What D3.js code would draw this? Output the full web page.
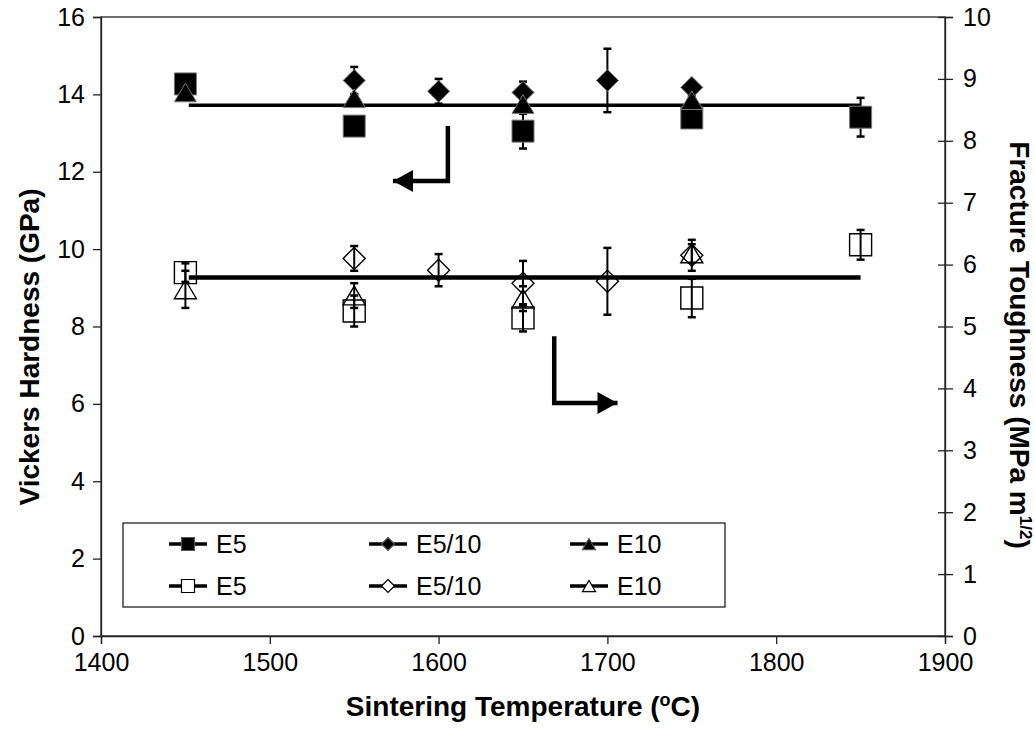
<!doctype html>
<html>
<head>
<meta charset="utf-8">
<script src="https://cdn.jsdelivr.net/npm/d3@7"></script>
<style>
  body { margin: 0; background: #fff; }
  svg { display: block; font-family: "Liberation Sans", Arial, sans-serif; }
</style>
</head>
<body>
<svg id="chart" width="1035" height="742"></svg>
<script>
  // sintering temperatures per composition
  var tempE5 = [1450, 1550, 1650, 1750, 1850];
  var tempE510 = [1550, 1600, 1650, 1700, 1750];
  var tempE10 = [1450, 1550, 1650, 1750];

  // Vickers hardness (GPa), left axis
  var hvE5 = [14.27, 13.18, 13.05, 13.39, 13.41];
  var hvE5Err = [0.1, 0.15, 0.45, 0.2, 0.5];
  var hvE510 = [14.36, 14.08, 14.05, 14.36, 14.18];
  var hvE510Err = [0.35, 0.32, 0.28, 0.82, 0.15];
  var hvE10 = [14.05, 13.9, 13.75, 13.85];
  var hvE10Err = [0.1, 0.1, 0.1, 0.1];

  // fracture toughness (MPa m^1/2), right axis
  var kE5 = [5.87, 5.25, 5.14, 5.46, 6.32];
  var kE5Err = [0.15, 0.25, 0.22, 0.31, 0.24];
  var kE510 = [6.1, 5.91, 5.7, 5.73, 6.15];
  var kE510Err = [0.2, 0.26, 0.36, 0.54, 0.25];
  var kE10 = [5.6, 5.5, 5.45, 6.18];
  var kE10Err = [0.3, 0.2, 0.2, 0.15];

  // linear trend lines (flat)
  var trendTemps = [1452, 1850];
  var hvTrend = [13.72, 13.72];
  var kTrend = [5.79, 5.79];

  var xTicks = [1400, 1500, 1600, 1700, 1800, 1900];
  var hvTicks = [0, 2, 4, 6, 8, 10, 12, 14, 16];
  var kTicks = [0, 1, 2, 3, 4, 5, 6, 7, 8, 9, 10];
  var legendLabels = ['E5', 'E5/10', 'E10'];

  var plotL = 101, plotR = 945, plotT = 17, plotB = 636;

  var svg = d3.select('#chart');
  var x = d3.scaleLinear().domain([1400, 1900]).range([plotL, plotR]);
  var yH = d3.scaleLinear().domain([0, 16]).range([plotB, plotT]);
  var yK = d3.scaleLinear().domain([0, 10]).range([plotB, plotT]);

  // plot frame
  svg.append('rect')
    .attr('x', plotL).attr('y', plotT)
    .attr('width', plotR - plotL).attr('height', plotB - plotT)
    .attr('fill', 'none').attr('stroke', '#222').attr('stroke-width', 1.3);

  var tickFont = 25;

  // x axis
  var xAxis = svg.append('g').attr('transform', 'translate(0,' + plotB + ')')
    .call(d3.axisBottom(x).tickValues(xTicks).tickSize(8).tickPadding(9).tickFormat(d3.format('d')));
  // left axis
  var yAxisL = svg.append('g').attr('transform', 'translate(' + plotL + ',0)')
    .call(d3.axisLeft(yH).tickValues(hvTicks).tickSize(8).tickPadding(8));
  // right axis, ticks crossing the line
  var yAxisR = svg.append('g').attr('transform', 'translate(' + plotR + ',0)')
    .call(d3.axisRight(yK).tickValues(kTicks).tickSize(8).tickPadding(10));
  yAxisR.selectAll('.tick line').attr('x1', -7);

  [xAxis, yAxisL, yAxisR].forEach(function (g) {
    g.select('.domain').attr('stroke', '#222').attr('stroke-width', 1.3);
    g.selectAll('.tick line').attr('stroke', '#222').attr('stroke-width', 1.3);
    g.selectAll('.tick text').attr('fill', '#000').style('font-size', tickFont + 'px')
      .style('font-family', '"Liberation Sans", Arial, sans-serif');
  });

  // axis titles
  var titleFont = 28;
  svg.append('text')
    .attr('x', 523).attr('y', 716)
    .attr('text-anchor', 'middle').style('font-size', titleFont + 'px').style('font-weight', 'bold')
    .html('Sintering Temperature (<tspan dy="-10" font-size="18">o</tspan><tspan dy="10">C)</tspan>');

  svg.append('text')
    .attr('transform', 'translate(39,347) rotate(-90)')
    .attr('text-anchor', 'middle').style('font-size', titleFont + 'px').style('font-weight', 'bold')
    .text('Vickers Hardness (GPa)');

  svg.append('text')
    .attr('transform', 'translate(1010,345) rotate(90)')
    .attr('text-anchor', 'middle').style('font-size', titleFont + 'px').style('font-weight', 'bold')
    .html('Fracture Toughness (MPa m<tspan dy="-10" font-size="17">1/2</tspan><tspan dy="10">)</tspan>');

  // trend lines
  var trendLine = function (yScale) {
    return d3.line().x(function (d) { return x(d[0]); }).y(function (d) { return yScale(d[1]); });
  };
  svg.append('path').datum(d3.zip(trendTemps, hvTrend))
    .attr('d', trendLine(yH)).attr('fill', 'none').attr('stroke', '#000').attr('stroke-width', 3.5);
  svg.append('path').datum(d3.zip(trendTemps, kTrend))
    .attr('d', trendLine(yK)).attr('fill', 'none').attr('stroke', '#000').attr('stroke-width', 4.5);

  // marker shapes
  function markerPath(kind, size) {
    var h = size / 2;
    if (kind === 'square') return d3.symbol().type(d3.symbolSquare).size(size * size)();
    if (kind === 'diamond') return 'M0,' + (-h) + 'L' + h + ',0L0,' + h + 'L' + (-h) + ',0Z';
    return 'M0,' + (-h * 0.85) + 'L' + h + ',' + (h * 0.85) + 'L' + (-h) + ',' + (h * 0.85) + 'Z';
  }

  function drawSeries(temps, vals, errs, yScale, kind, filled) {
    var pts = d3.zip(temps, vals, errs);
    var g = svg.append('g');
    var bars = g.selectAll('g.err').data(pts).enter().append('g').attr('class', 'err');
    bars.append('line')
      .attr('x1', function (d) { return x(d[0]); }).attr('x2', function (d) { return x(d[0]); })
      .attr('y1', function (d) { return yScale(d[1] + d[2]); })
      .attr('y2', function (d) { return yScale(d[1] - d[2]); })
      .attr('stroke', '#000').attr('stroke-width', 2);
    [1, -1].forEach(function (sgn) {
      bars.append('line')
        .attr('x1', function (d) { return x(d[0]) - 4; }).attr('x2', function (d) { return x(d[0]) + 4; })
        .attr('y1', function (d) { return yScale(d[1] + sgn * d[2]); })
        .attr('y2', function (d) { return yScale(d[1] + sgn * d[2]); })
        .attr('stroke', '#000').attr('stroke-width', 2.5);
    });
    g.selectAll('path.mk').data(pts).enter().append('path').attr('class', 'mk')
      .attr('transform', function (d) { return 'translate(' + x(d[0]) + ',' + yScale(d[1]) + ')'; })
      .attr('d', markerPath(kind, 22))
      .attr('fill', filled ? '#000' : 'none')
      .attr('stroke', filled ? '#777' : '#000')
      .attr('stroke-width', filled ? 1 : 1.4);
  }

  // open markers (toughness)
  drawSeries(tempE5, kE5, kE5Err, yK, 'square', false);
  drawSeries(tempE510, kE510, kE510Err, yK, 'diamond', false);
  drawSeries(tempE10, kE10, kE10Err, yK, 'triangle', false);
  // filled markers (hardness)
  drawSeries(tempE5, hvE5, hvE5Err, yH, 'square', true);
  drawSeries(tempE510, hvE510, hvE510Err, yH, 'diamond', true);
  drawSeries(tempE10, hvE10, hvE10Err, yH, 'triangle', true);

  // arrows pointing to each axis
  function arrow(pts, dir) {
    var line = d3.line().x(function (d) { return x(d[0]); }).y(function (d) { return yH(d[1]); });
    svg.append('path').datum(pts).attr('d', line)
      .attr('fill', 'none').attr('stroke', '#000').attr('stroke-width', 4.5);
    var tip = pts[pts.length - 1];
    var tx = x(tip[0]), ty = yH(tip[1]);
    svg.append('path')
      .attr('d', 'M' + tx + ',' + ty + 'L' + (tx - dir * 20) + ',' + (ty - 11) + 'L' + (tx - dir * 20) + ',' + (ty + 11) + 'Z')
      .attr('fill', '#000');
  }
  arrow([[1605.5, 13.18], [1605.5, 11.76], [1573, 11.76]], -1);
  arrow([[1668.5, 7.75], [1668.5, 6.02], [1706, 6.02]], 1);

  // legend
  var lg = svg.append('g');
  lg.append('rect').attr('x', 123).attr('y', 523).attr('width', 602).attr('height', 84)
    .attr('fill', '#fff').attr('stroke', '#222').attr('stroke-width', 1.3);
  var colX = [188, 388, 589];
  var rowY = [544, 586];
  var kinds = ['square', 'diamond', 'triangle'];
  rowY.forEach(function (ry, r) {
    kinds.forEach(function (kind, c) {
      var cx = colX[c];
      lg.append('line').attr('x1', cx - 19).attr('x2', cx + 19).attr('y1', ry).attr('y2', ry)
        .attr('stroke', '#000').attr('stroke-width', 3.5);
      lg.append('path').attr('transform', 'translate(' + cx + ',' + ry + ')')
        .attr('d', markerPath(kind, 13))
        .attr('fill', r === 0 ? '#000' : '#fff')
        .attr('stroke', r === 0 ? '#555' : '#000').attr('stroke-width', 1.2);
      lg.append('text').attr('x', cx + 28).attr('y', ry + 9)
        .style('font-size', tickFont + 'px').text(legendLabels[c]);
    });
  });
</script>
</body>
</html>
